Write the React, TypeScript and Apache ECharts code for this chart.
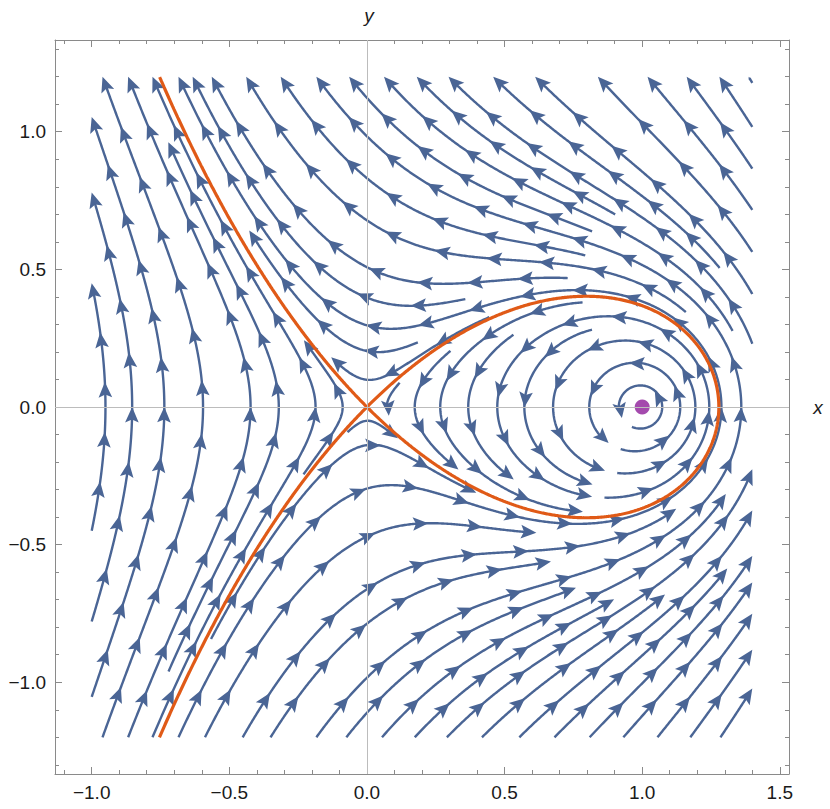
import React, { useEffect, useRef } from "react";
import * as echarts from "echarts";

// ---- plot frame and stream domain ----
const xPlotRange = [-1.13333, 1.53333];
const yPlotRange = [-1.33333, 1.33333];
const xDomain = [-1, 1.4];
const yDomain = [-1.2, 1.2];

// ---- ticks ----
const xTicksMajor = [-1, -0.5, 0, 0.5, 1, 1.5];
const xTicksMinor = [-1.1, -0.9, -0.8, -0.7, -0.6, -0.4, -0.3, -0.2, -0.1, 0.1, 0.2, 0.3, 0.4, 0.6, 0.7, 0.8, 0.9, 1.1, 1.2, 1.3, 1.4];
const yTicksMajor = [-1, -0.5, 0, 0.5, 1];
const yTicksMinor = [-1.3, -1.2, -1.1, -0.9, -0.8, -0.7, -0.6, -0.4, -0.3, -0.2, -0.1, 0.1, 0.2, 0.3, 0.4, 0.6, 0.7, 0.8, 0.9, 1.1, 1.2, 1.3];

// ---- system: dx/dt = -y , dy/dt = x^2 - x + y^2 ----
const equilibriumSaddle = [0, 0];
const equilibriumCenter = [1, 0];

const streamColor = "#4a6595";
const curveColor = "#e05a17";
const dotColor = "#a44aad";
const frameColor = "#8a8a8a";

function field(x: number, y: number): [number, number] {
  return [-y, x * x - x + y * y];
}

function dirAt(x: number, y: number): [number, number] | null {
  const [u, v] = field(x, y);
  const m = Math.hypot(u, v);
  if (m < 1e-10) return null;
  return [u / m, v / m];
}

function rk4(x: number, y: number, h: number): [number, number] | null {
  const k1 = dirAt(x, y);
  if (!k1) return null;
  const k2 = dirAt(x + (h / 2) * k1[0], y + (h / 2) * k1[1]);
  if (!k2) return null;
  const k3 = dirAt(x + (h / 2) * k2[0], y + (h / 2) * k2[1]);
  if (!k3) return null;
  const k4 = dirAt(x + h * k3[0], y + h * k3[1]);
  if (!k4) return null;
  return [
    x + (h / 6) * (k1[0] + 2 * k2[0] + 2 * k3[0] + k4[0]),
    y + (h / 6) * (k1[1] + 2 * k2[1] + 2 * k3[1] + k4[1]),
  ];
}

const inside = (x: number, y: number) =>
  x >= xDomain[0] && x <= xDomain[1] && y >= yDomain[0] && y <= yDomain[1];

function clipT(x0: number, y0: number, x1: number, y1: number) {
  let t = 1;
  const dx = x1 - x0, dy = y1 - y0;
  if (x1 < xDomain[0]) t = Math.min(t, (xDomain[0] - x0) / dx);
  if (x1 > xDomain[1]) t = Math.min(t, (xDomain[1] - x0) / dx);
  if (y1 < yDomain[0]) t = Math.min(t, (yDomain[0] - y0) / dy);
  if (y1 > yDomain[1]) t = Math.min(t, (yDomain[1] - y0) / dy);
  return Math.max(0, t);
}

// ---- evenly spaced streamlines (Jobard-Lefer style) ----
function computeStreams(): number[][][] {
  const dsep = 0.088, dtest = 0.044, h = 0.005, arcGap = 0.16, maxSteps = 4000;
  const cell = dsep;
  const grid = new Map<string, { x: number; y: number; id: number; s: number }[]>();
  const key = (i: number, j: number) => i + "," + j;
  const add = (x: number, y: number, id: number, s: number) => {
    const k = key(Math.floor(x / cell), Math.floor(y / cell));
    let a = grid.get(k);
    if (!a) { a = []; grid.set(k, a); }
    a.push({ x, y, id, s });
  };
  const free = (x: number, y: number, d: number, id: number, s: number) => {
    const ci = Math.floor(x / cell), cj = Math.floor(y / cell);
    const d2 = d * d;
    for (let i = ci - 1; i <= ci + 1; i++)
      for (let j = cj - 1; j <= cj + 1; j++) {
        const a = grid.get(key(i, j));
        if (!a) continue;
        for (const p of a) {
          if (p.id === id && Math.abs(p.s - s) < arcGap) continue;
          const dx = p.x - x, dy = p.y - y;
          if (dx * dx + dy * dy < d2) return false;
        }
      }
    return true;
  };
  const trace = (x0: number, y0: number, sign: number, id: number) => {
    const pts: number[][] = [];
    let x = x0, y = y0, s = 0;
    let prev = dirAt(x, y);
    for (let n = 0; n < maxSteps; n++) {
      const nx = rk4(x, y, sign * h);
      if (!nx) break;
      if (!inside(nx[0], nx[1])) {
        const t = clipT(x, y, nx[0], nx[1]);
        pts.push([x + (nx[0] - x) * t, y + (nx[1] - y) * t]);
        break;
      }
      const d = dirAt(nx[0], nx[1]);
      if (!d || !prev || d[0] * prev[0] + d[1] * prev[1] < 0.3) break;
      prev = d;
      s += h;
      if (!free(nx[0], nx[1], dtest, id, sign * s)) break;
      x = nx[0]; y = nx[1];
      pts.push([x, y]);
      add(x, y, id, sign * s);
    }
    return pts;
  };

  const streams: number[][][] = [];
  const queue: number[][] = [];
  let qi = 0;
  let nextId = 0;
  const trySeed = (x: number, y: number) => {
    if (!inside(x, y)) return;
    if (Math.hypot(x - equilibriumCenter[0], y - equilibriumCenter[1]) < dsep * 0.8) return;
    if (Math.hypot(x - equilibriumSaddle[0], y - equilibriumSaddle[1]) < dsep * 0.5) return;
    if (!free(x, y, dsep, -1, 0)) return;
    const id = nextId++;
    add(x, y, id, 0);
    const f = trace(x, y, 1, id);
    const b = trace(x, y, -1, id);
    const pts = [...b.reverse(), [x, y], ...f];
    if (pts.length < 4) return;
    streams.push(pts);
    for (let i = 1; i < pts.length - 1; i += 5) {
      const dx = pts[i + 1][0] - pts[i - 1][0], dy = pts[i + 1][1] - pts[i - 1][1];
      const m = Math.hypot(dx, dy) || 1;
      const nx = -dy / m, ny = dx / m;
      queue.push([pts[i][0] + nx * dsep, pts[i][1] + ny * dsep]);
      queue.push([pts[i][0] - nx * dsep, pts[i][1] - ny * dsep]);
    }
  };
  const drain = () => {
    while (qi < queue.length) {
      const q = queue[qi++];
      trySeed(q[0], q[1]);
    }
  };
  trySeed(-0.95, 0.0);
  drain();
  for (let y = yDomain[0] + 0.02; y <= yDomain[1]; y += dsep / 2)
    for (let x = xDomain[0] + 0.02; x <= xDomain[1]; x += dsep / 2) {
      trySeed(x, y);
      drain();
    }
  return streams;
}

// ---- separatrix through the saddle ----
function computeSeparatrix() {
  const h = 0.002;
  const eps = 1e-3;
  const run = (x0: number, y0: number, sign: number, closeLoop: boolean) => {
    const pts: number[][] = [[equilibriumSaddle[0], equilibriumSaddle[1]], [x0, y0]];
    let x = x0, y = y0, s = 0;
    for (let n = 0; n < 20000; n++) {
      const nx = rk4(x, y, sign * h);
      if (!nx) break;
      if (!inside(nx[0], nx[1])) {
        const t = clipT(x, y, nx[0], nx[1]);
        pts.push([x + (nx[0] - x) * t, y + (nx[1] - y) * t]);
        break;
      }
      x = nx[0]; y = nx[1]; s += h;
      pts.push([x, y]);
      if (closeLoop && s > 0.5 && Math.hypot(x - equilibriumSaddle[0], y - equilibriumSaddle[1]) < 0.005) {
        pts.push([equilibriumSaddle[0], equilibriumSaddle[1]]);
        break;
      }
    }
    return pts;
  };
  const loop = run(eps, -eps, 1, true);
  const upper = run(-eps, eps, 1, false);
  const lower = run(-eps, -eps, -1, false);
  const vee = [...lower.reverse(), ...upper];
  return { loop, vee };
}

const tickFmt = (v: number) => (v < 0 ? "\u2212" : "") + Math.abs(v).toFixed(1);

export default function App() {
  const ref = useRef<HTMLDivElement>(null);
  useEffect(() => {
    if (!ref.current) return;
    const chart = echarts.init(ref.current, undefined, { renderer: "svg" });
    const streams = computeStreams();
    const { loop, vee } = computeSeparatrix();

    const segPx = 52, headPx = 15.5;
    const renderItem = (params: any, api: any) => {
      const pts: number[][] = streams[params.dataIndex].map((p) => api.coord(p));
      const cum = [0];
      for (let i = 1; i < pts.length; i++)
        cum.push(cum[i - 1] + Math.hypot(pts[i][0] - pts[i - 1][0], pts[i][1] - pts[i - 1][1]));
      const L = cum[cum.length - 1];
      if (L < 3) return null;
      const pointAt = (s: number) => {
        s = Math.max(0, Math.min(L, s));
        let i = 1;
        while (i < cum.length - 1 && cum[i] < s) i++;
        const seg = cum[i] - cum[i - 1] || 1;
        const t = (s - cum[i - 1]) / seg;
        return [pts[i - 1][0] + (pts[i][0] - pts[i - 1][0]) * t, pts[i - 1][1] + (pts[i][1] - pts[i - 1][1]) * t];
      };
      const n = Math.max(1, Math.round(L / segPx));
      const segL = L / n;
      const headLen = Math.min(headPx, segL * 0.45);
      const hw = headLen * 0.44;
      const endLine = L - headLen * 0.5;
      const linePts: number[][] = [];
      for (let i = 0; i < pts.length && cum[i] < endLine; i++) linePts.push(pts[i]);
      linePts.push(pointAt(endLine));
      const children: any[] = [
        {
          type: "polyline",
          shape: { points: linePts },
          style: { stroke: streamColor, lineWidth: 2.4, fill: null, lineJoin: "round" },
        },
      ];
      for (let k = 1; k <= n; k++) {
        const tip = pointAt(k * segL);
        const base = pointAt(k * segL - headLen);
        let dx = tip[0] - base[0], dy = tip[1] - base[1];
        const m = Math.hypot(dx, dy) || 1;
        dx /= m; dy /= m;
        const bx = tip[0] - dx * headLen, by = tip[1] - dy * headLen;
        const nxv = -dy, nyv = dx;
        children.push({
          type: "polygon",
          shape: {
            points: [
              tip,
              [bx + nxv * hw, by + nyv * hw],
              [bx + dx * headLen * 0.2, by + dy * headLen * 0.2],
              [bx - nxv * hw, by - nyv * hw],
            ],
          },
          style: { fill: streamColor },
        });
      }
      return { type: "group", children };
    };

    const common = {
      type: "value",
      splitLine: { show: false },
      gridIndex: 0,
    };
    const labelStyle = {
      fontSize: 19,
      fontFamily: "Liberation Sans, Arial, sans-serif",
      color: "#1a1a1a",
      formatter: tickFmt,
    };
    const xAx = (pos: string, major: boolean, labels: boolean, line: boolean) => ({
      ...common,
      min: xPlotRange[0],
      max: xPlotRange[1],
      position: pos,
      axisLine: { show: line, onZero: false, lineStyle: { color: frameColor, width: 1 } },
      axisTick: {
        show: true,
        inside: true,
        length: major ? 7 : 4,
        customValues: major ? xTicksMajor : xTicksMinor,
        lineStyle: { color: frameColor, width: 1 },
      },
      axisLabel: labels
        ? { show: true, customValues: xTicksMajor, margin: 9, ...labelStyle }
        : { show: false },
    });
    const yAx = (pos: string, major: boolean, labels: boolean, line: boolean) => ({
      ...common,
      min: yPlotRange[0],
      max: yPlotRange[1],
      position: pos,
      axisLine: { show: line, onZero: false, lineStyle: { color: frameColor, width: 1 } },
      axisTick: {
        show: true,
        inside: true,
        length: major ? 7 : 4,
        customValues: major ? yTicksMajor : yTicksMinor,
        lineStyle: { color: frameColor, width: 1 },
      },
      axisLabel: labels
        ? { show: true, customValues: yTicksMajor, margin: 9, ...labelStyle }
        : { show: false },
    });

    const option: any = {
      animation: false,
      backgroundColor: "#ffffff",
      grid: { left: 55, top: 40, width: 734, height: 734, containLabel: false },
      xAxis: [
        xAx("bottom", true, true, true),
        xAx("bottom", false, false, false),
        xAx("top", true, false, true),
        xAx("top", false, false, false),
      ],
      yAxis: [
        yAx("left", true, true, true),
        yAx("left", false, false, false),
        yAx("right", true, false, true),
        yAx("right", false, false, false),
      ],
      series: [
        {
          type: "line",
          data: [],
          silent: true,
          markLine: {
            silent: true,
            symbol: "none",
            label: { show: false },
            lineStyle: { color: "#bcbcbc", width: 1, type: "solid" },
            data: [{ xAxis: equilibriumSaddle[0] }, { yAxis: equilibriumSaddle[1] }],
          },
          z: 1,
        },
        {
          type: "custom",
          coordinateSystem: "cartesian2d",
          renderItem,
          data: streams.map((s) => s[0]),
          silent: true,
          clip: false,
          z: 2,
        },
        {
          type: "line",
          data: loop,
          showSymbol: false,
          symbol: "none",
          lineStyle: { color: curveColor, width: 3.2 },
          silent: true,
          z: 3,
        },
        {
          type: "line",
          data: vee,
          showSymbol: false,
          symbol: "none",
          lineStyle: { color: curveColor, width: 3.2 },
          silent: true,
          z: 3,
        },
        {
          type: "scatter",
          data: [equilibriumCenter],
          symbol: "circle",
          symbolSize: 15,
          itemStyle: { color: dotColor, opacity: 1 },
          silent: true,
          z: 4,
        },
      ],
    };
    chart.setOption(option);
    const pTop = chart.convertToPixel({ xAxisIndex: 0, yAxisIndex: 0 }, [equilibriumSaddle[0], yPlotRange[1]]) as number[];
    const pRight = chart.convertToPixel({ xAxisIndex: 0, yAxisIndex: 0 }, [xPlotRange[1], equilibriumSaddle[1]]) as number[];
    chart.setOption({
      graphic: [
        {
          type: "text",
          x: pTop[0] + 2,
          y: pTop[1] - 25,
          style: {
            text: "y",
            font: 'italic 19px "Liberation Sans", Arial, sans-serif',
            fill: "#1a1a1a",
            textAlign: "center",
            textVerticalAlign: "middle",
          },
        },
        {
          type: "text",
          x: pRight[0] + 29,
          y: pRight[1],
          style: {
            text: "x",
            font: 'italic 19px "Liberation Sans", Arial, sans-serif',
            fill: "#1a1a1a",
            textAlign: "center",
            textVerticalAlign: "middle",
          },
        },
      ],
    });
    return () => chart.dispose();
  }, []);
  return (
    <div
      ref={ref}
      style={{ position: "fixed", left: 0, top: 0, width: 830, height: 809, background: "#fff" }}
    />
  );
}
